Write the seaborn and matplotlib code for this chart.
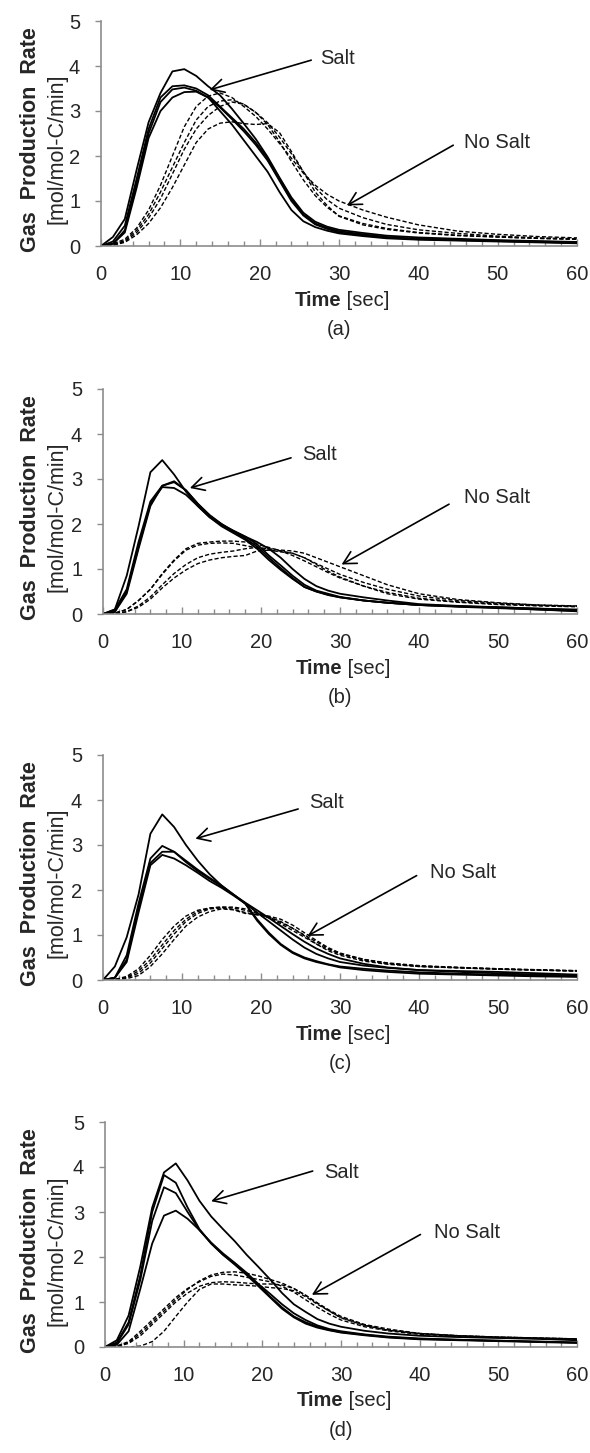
import matplotlib
matplotlib.use('Agg')
import matplotlib.pyplot as plt
import seaborn as sns
import pandas as pd
from matplotlib.ticker import MultipleLocator

t = [0, 1.5, 3, 4.5, 6, 7.5, 9, 10.5, 12, 13.5, 15, 16.5, 18, 19.5, 21, 22.5,
     24, 25.5, 27, 28.5, 30, 33, 36, 40, 45, 50, 55, 60]

# (a)
salt_a = [
    [0, 0.2, 0.6, 1.7, 2.75, 3.4, 3.88, 3.93, 3.78, 3.55, 3.35, 3.05, 2.72, 2.38, 1.98, 1.52, 1.08, 0.74, 0.54, 0.43, 0.36, 0.29, 0.23, 0.19, 0.16, 0.13, 0.11, 0.09],
    [0, 0.1, 0.45, 1.5, 2.6, 3.3, 3.55, 3.57, 3.5, 3.35, 3.1, 2.85, 2.6, 2.3, 1.95, 1.5, 1.05, 0.7, 0.5, 0.4, 0.33, 0.26, 0.2, 0.16, 0.14, 0.12, 0.1, 0.08],
    [0, 0.05, 0.35, 1.4, 2.5, 3.2, 3.48, 3.52, 3.45, 3.3, 3.08, 2.82, 2.55, 2.25, 1.9, 1.45, 1.0, 0.68, 0.48, 0.38, 0.3, 0.24, 0.19, 0.15, 0.13, 0.11, 0.09, 0.07],
    [0, 0.05, 0.3, 1.3, 2.4, 3.0, 3.3, 3.42, 3.43, 3.3, 3.0, 2.7, 2.35, 2.0, 1.65, 1.2, 0.8, 0.55, 0.42, 0.34, 0.28, 0.22, 0.17, 0.14, 0.12, 0.1, 0.08, 0.06],
]
nosalt_a = [
    [0, 0.05, 0.15, 0.4, 0.8, 1.35, 2.0, 2.65, 3.1, 3.33, 3.4, 3.3, 3.1, 2.88, 2.6, 2.28, 1.95, 1.62, 1.35, 1.15, 1.0, 0.8, 0.64, 0.47, 0.33, 0.26, 0.21, 0.18],
    [0, 0.03, 0.12, 0.35, 0.7, 1.2, 1.75, 2.3, 2.8, 3.1, 3.22, 3.25, 3.15, 2.97, 2.74, 2.42, 2.05, 1.65, 1.3, 1.03, 0.84, 0.63, 0.48, 0.36, 0.28, 0.22, 0.18, 0.16],
    [0, 0.02, 0.1, 0.3, 0.62, 1.05, 1.6, 2.15, 2.6, 2.9, 3.1, 3.2, 3.15, 2.97, 2.7, 2.32, 1.88, 1.47, 1.12, 0.86, 0.67, 0.5, 0.39, 0.3, 0.24, 0.2, 0.17, 0.15],
    [0, 0.02, 0.08, 0.25, 0.5, 0.85, 1.3, 1.8, 2.3, 2.6, 2.73, 2.76, 2.72, 2.7, 2.72, 2.52, 2.1, 1.65, 1.2, 0.9, 0.66, 0.47, 0.37, 0.29, 0.23, 0.2, 0.17, 0.15],
]

# (b)
salt_b = [
    [0, 0.1, 0.85, 1.95, 3.15, 3.42, 3.1, 2.72, 2.4, 2.15, 1.98, 1.85, 1.72, 1.55, 1.3, 1.08, 0.85, 0.65, 0.52, 0.45, 0.38, 0.3, 0.25, 0.2, 0.17, 0.15, 0.12, 0.1],
    [0, 0.1, 0.55, 1.6, 2.5, 2.85, 2.93, 2.75, 2.45, 2.2, 2.0, 1.83, 1.68, 1.5, 1.25, 1.02, 0.8, 0.6, 0.5, 0.43, 0.37, 0.3, 0.25, 0.2, 0.17, 0.14, 0.1, 0.06],
    [0, 0.05, 0.45, 1.45, 2.4, 2.85, 2.95, 2.75, 2.45, 2.18, 2.0, 1.85, 1.72, 1.6, 1.45, 1.25, 1.0, 0.78, 0.62, 0.52, 0.45, 0.37, 0.3, 0.22, 0.18, 0.15, 0.12, 0.08],
    [0, 0.05, 0.5, 1.5, 2.45, 2.82, 2.8, 2.65, 2.4, 2.15, 1.95, 1.8, 1.65, 1.45, 1.2, 0.98, 0.78, 0.6, 0.5, 0.42, 0.37, 0.3, 0.25, 0.2, 0.16, 0.13, 0.1, 0.07],
]
nosalt_b = [
    [0, 0.02, 0.1, 0.3, 0.55, 0.9, 1.2, 1.45, 1.57, 1.6, 1.62, 1.62, 1.6, 1.55, 1.48, 1.4, 1.3, 1.18, 1.05, 0.92, 0.8, 0.62, 0.48, 0.35, 0.27, 0.22, 0.19, 0.17],
    [0, 0.02, 0.1, 0.3, 0.55, 0.88, 1.18, 1.42, 1.53, 1.57, 1.58, 1.57, 1.52, 1.47, 1.42, 1.38, 1.35, 1.25, 1.1, 0.95, 0.82, 0.62, 0.45, 0.33, 0.26, 0.21, 0.18, 0.16],
    [0, 0.01, 0.05, 0.18, 0.38, 0.65, 0.9, 1.1, 1.25, 1.33, 1.37, 1.4, 1.45, 1.48, 1.45, 1.42, 1.4, 1.35, 1.25, 1.15, 1.05, 0.85, 0.65, 0.45, 0.32, 0.25, 0.2, 0.18],
    [0, 0.01, 0.05, 0.15, 0.33, 0.58, 0.8, 0.98, 1.12, 1.2, 1.25, 1.28, 1.3, 1.4, 1.42, 1.4, 1.35, 1.25, 1.12, 1.0, 0.88, 0.7, 0.55, 0.4, 0.3, 0.24, 0.2, 0.17],
]

# (c)
salt_c = [
    [0, 0.3, 0.95, 1.9, 3.25, 3.68, 3.4, 3.0, 2.65, 2.35, 2.1, 1.9, 1.7, 1.5, 1.3, 1.1, 0.9, 0.72, 0.58, 0.48, 0.4, 0.32, 0.27, 0.22, 0.2, 0.18, 0.15, 0.12],
    [0, 0.05, 0.55, 1.7, 2.7, 2.98, 2.85, 2.62, 2.42, 2.25, 2.08, 1.9, 1.7, 1.35, 1.05, 0.8, 0.62, 0.5, 0.42, 0.35, 0.3, 0.25, 0.21, 0.17, 0.14, 0.12, 0.1, 0.08],
    [0, 0.05, 0.45, 1.6, 2.6, 2.85, 2.85, 2.65, 2.45, 2.27, 2.1, 1.9, 1.72, 1.55, 1.38, 1.2, 1.02, 0.85, 0.7, 0.58, 0.48, 0.36, 0.28, 0.22, 0.18, 0.15, 0.12, 0.1],
    [0, 0.05, 0.4, 1.5, 2.55, 2.78, 2.7, 2.55, 2.38, 2.2, 2.05, 1.88, 1.7, 1.32, 1.02, 0.78, 0.6, 0.48, 0.4, 0.34, 0.28, 0.22, 0.18, 0.14, 0.12, 0.1, 0.08, 0.07],
]
nosalt_c = [
    [0, 0.01, 0.08, 0.25, 0.55, 0.9, 1.2, 1.42, 1.55, 1.6, 1.62, 1.6, 1.55, 1.48, 1.38, 1.25, 1.1, 0.95, 0.8, 0.68, 0.58, 0.45, 0.37, 0.3, 0.27, 0.24, 0.22, 0.2],
    [0, 0.01, 0.06, 0.2, 0.45, 0.78, 1.1, 1.35, 1.52, 1.6, 1.62, 1.62, 1.58, 1.5, 1.4, 1.28, 1.15, 1.0, 0.85, 0.7, 0.58, 0.45, 0.37, 0.31, 0.28, 0.25, 0.23, 0.21],
    [0, 0.01, 0.05, 0.15, 0.38, 0.7, 1.02, 1.3, 1.48, 1.58, 1.6, 1.57, 1.5, 1.45, 1.42, 1.35, 1.22, 1.05, 0.88, 0.72, 0.6, 0.46, 0.38, 0.32, 0.28, 0.25, 0.22, 0.2],
    [0, 0.0, 0.03, 0.1, 0.3, 0.58, 0.9, 1.2, 1.4, 1.52, 1.58, 1.56, 1.48, 1.45, 1.4, 1.3, 1.15, 0.98, 0.8, 0.65, 0.55, 0.42, 0.35, 0.3, 0.27, 0.24, 0.22, 0.2],
]

# (d)
salt_d = [
    [0, 0.15, 0.7, 1.8, 3.1, 3.88, 4.08, 3.7, 3.25, 2.9, 2.62, 2.35, 2.05, 1.78, 1.5, 1.2, 0.95, 0.78, 0.62, 0.52, 0.45, 0.36, 0.3, 0.25, 0.22, 0.2, 0.18, 0.15],
    [0, 0.1, 0.55, 1.6, 3.0, 3.82, 3.65, 3.1, 2.62, 2.3, 2.05, 1.85, 1.62, 1.38, 1.12, 0.88, 0.68, 0.55, 0.45, 0.38, 0.33, 0.27, 0.22, 0.18, 0.16, 0.14, 0.12, 0.1],
    [0, 0.08, 0.5, 1.5, 2.8, 3.55, 3.42, 3.0, 2.6, 2.3, 2.05, 1.83, 1.6, 1.35, 1.1, 0.85, 0.66, 0.52, 0.43, 0.37, 0.32, 0.26, 0.21, 0.17, 0.15, 0.13, 0.11, 0.09],
    [0, 0.05, 0.35, 1.3, 2.3, 2.92, 3.03, 2.85, 2.6, 2.32, 2.08, 1.87, 1.65, 1.4, 1.18, 0.95, 0.75, 0.6, 0.48, 0.4, 0.35, 0.28, 0.23, 0.19, 0.16, 0.14, 0.12, 0.1],
]
nosalt_d = [
    [0, 0.02, 0.12, 0.35, 0.6, 0.85, 1.1, 1.3, 1.45, 1.57, 1.62, 1.6, 1.55, 1.5, 1.45, 1.35, 1.22, 1.05, 0.88, 0.73, 0.6, 0.45, 0.36, 0.28, 0.24, 0.21, 0.19, 0.17],
    [0, 0.02, 0.1, 0.3, 0.55, 0.8, 1.05, 1.28, 1.47, 1.6, 1.66, 1.67, 1.64, 1.58, 1.5, 1.42, 1.3, 1.15, 0.98, 0.82, 0.68, 0.5, 0.4, 0.3, 0.25, 0.22, 0.2, 0.18],
    [0, 0.01, 0.08, 0.25, 0.5, 0.75, 1.0, 1.2, 1.35, 1.43, 1.45, 1.44, 1.42, 1.4, 1.4, 1.38, 1.3, 1.15, 0.97, 0.8, 0.65, 0.48, 0.38, 0.3, 0.25, 0.22, 0.2, 0.18],
    [0, 0.0, 0.0, 0.02, 0.12, 0.35, 0.68, 1.0, 1.28, 1.4, 1.4, 1.38, 1.37, 1.35, 1.32, 1.3, 1.25, 1.12, 0.95, 0.8, 0.65, 0.48, 0.37, 0.3, 0.25, 0.22, 0.2, 0.18],
]

panel_names = ['(a)', '(b)', '(c)', '(d)']
salt_sets = [salt_a, salt_b, salt_c, salt_d]
nosalt_sets = [nosalt_a, nosalt_b, nosalt_c, nosalt_d]

# annotation anchors (data coords): text position, arrow tail, arrow head
salt_text = [(27.6, 4.16), (25.2, 3.54), (26.1, 3.95), (27.9, 3.87)]
salt_tail = [(26.5, 4.13), (23.8, 3.47), (24.7, 3.80), (26.4, 3.91)]
salt_head = [(13.7, 3.47), (11.0, 2.80), (11.7, 3.14), (13.5, 3.24)]
nosalt_text = [(45.8, 2.31), (45.7, 2.58), (41.4, 2.38), (41.8, 2.54)]
nosalt_tail = [(44.4, 2.24), (43.8, 2.44), (39.7, 2.32), (40.1, 2.50)]
nosalt_head = [(31.0, 0.90), (30.2, 1.10), (25.9, 0.98), (26.3, 1.16)]


def to_long(curves, group):
    rows = []
    for k, ys in enumerate(curves):
        for x, y in zip(t, ys):
            rows.append({'time': x, 'rate': y, 'run': f'{group}{k}', 'group': group})
    return pd.DataFrame(rows)


sns.set_style('white')
plt.rcParams['font.family'] = ['Liberation Sans', 'DejaVu Sans']

W, H = 590, 1453
fig = plt.figure(figsize=(W / 100, H / 100), dpi=100)

lefts = [101, 103, 103, 105]
tops = [21, 389, 755, 1122]
right = 577
axh = 225
grey = '#8c8c8c'

for i in range(4):
    axw = right - lefts[i]
    ax = fig.add_axes([lefts[i] / W, 1 - (tops[i] + axh) / H, axw / W, axh / H])

    d_salt = to_long(salt_sets[i], 'Salt')
    d_no = to_long(nosalt_sets[i], 'NoSalt')
    sns.lineplot(data=d_no, x='time', y='rate', units='run', estimator=None,
                 color='black', linewidth=1.0, linestyle=(0, (3, 1.6)), ax=ax, legend=False)
    sns.lineplot(data=d_salt, x='time', y='rate', units='run', estimator=None,
                 color='black', linewidth=1.3, ax=ax, legend=False)

    ax.set_xlim(0, 60)
    ax.set_ylim(0, 5)
    ax.set_xticks(range(0, 61, 10))
    ax.xaxis.set_minor_locator(MultipleLocator(2))
    ax.set_yticks(range(0, 6))
    ax.set_xlabel('')
    ax.set_ylabel('')
    for s in ['top', 'right']:
        ax.spines[s].set_visible(False)
    for s in ['left', 'bottom']:
        ax.spines[s].set_color(grey)
        ax.spines[s].set_linewidth(1.2)
    ax.tick_params(axis='x', which='major', direction='in', length=5, width=1, color=grey,
                   labelsize=14.5, pad=13.5, bottom=True)
    ax.tick_params(axis='x', which='minor', direction='in', length=3.5, width=1, color=grey, bottom=True)
    ax.tick_params(axis='y', which='major', direction='out', length=4, width=1, color=grey,
                   labelsize=14.5, pad=11, left=True)

    # y label in two lines: bold title and unit (positions in axes fraction)
    ax.text((31 - lefts[i]) / axw, 0.475, 'Gas  Production  Rate', transform=ax.transAxes,
            rotation=90, ha='center', va='center', fontsize=15.5, fontweight='bold')
    ax.text((57 - lefts[i]) / axw, 0.43, '[mol/mol-C/min]', transform=ax.transAxes,
            rotation=90, ha='center', va='center', fontsize=15.5)

    # x label: bold "Time" + normal "[sec]"
    ax.text(0.505, -0.24, 'Time', transform=ax.transAxes, ha='right', va='center',
            fontsize=14.5, fontweight='bold')
    ax.text(0.505, -0.24, ' [sec]', transform=ax.transAxes, ha='left', va='center', fontsize=14.5)
    ax.text(0.5, -0.37, panel_names[i], transform=ax.transAxes, ha='center', va='center', fontsize=14.5)

    arrow = dict(arrowstyle='->,head_length=0.75,head_width=0.4', color='black', lw=1.2,
                 shrinkA=0, shrinkB=0, mutation_scale=12)
    ax.annotate('', xy=salt_head[i], xytext=salt_tail[i], arrowprops=arrow)
    ax.text(*salt_text[i], 'Salt', ha='left', va='center', fontsize=14.5)
    ax.annotate('', xy=nosalt_head[i], xytext=nosalt_tail[i], arrowprops=arrow)
    ax.text(*nosalt_text[i], 'No Salt', ha='left', va='center', fontsize=14.5)

fig.savefig('out.png', dpi=100, facecolor='white')
